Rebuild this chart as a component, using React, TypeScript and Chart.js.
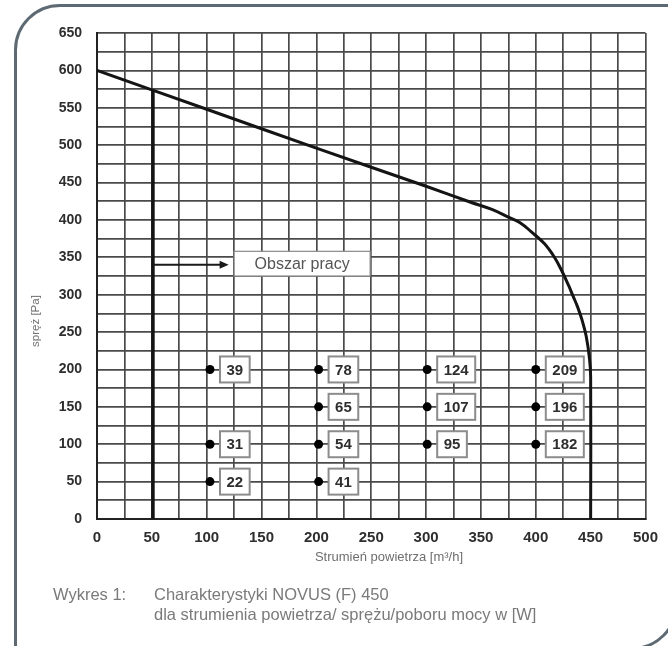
import React, { useEffect, useRef } from 'react';
import { Chart, registerables } from 'chart.js';

Chart.register(...registerables);

// Fan curve: air flow [m3/h] vs. pressure [Pa]
const curveFlow = [0, 100, 200, 300, 340, 360, 376, 386, 396, 408, 417, 424, 430, 434, 438, 442, 446, 449, 450, 450];
const curvePressure = [600, 548, 496, 445, 424, 414, 403, 396, 384, 368, 350, 331, 312, 298, 284, 267, 244, 214, 190, 0];

// Lower limit of the working area
const limitFlow = [51, 51];
const limitPressure = [0, 574];

// Power consumption points [W]
const pointFlow = [103, 202, 301, 400, 202, 301, 400, 103, 202, 301, 400, 103, 202];
const pointPressure = [200, 200, 200, 200, 150, 150, 150, 100, 100, 100, 100, 50, 50];
const pointPower = [39, 78, 124, 209, 65, 107, 196, 31, 54, 95, 182, 22, 41];

// Working-area annotation (data units)
const regionLabel = 'Obszar pracy';
const arrowFlow = [51, 120];
const arrowPressure = 340;
const regionBoxFlow = [125, 249];
const regionBoxPressure = [325, 358];

const xTitle = 'Strumień powietrza [m³/h]';
const yTitle = 'spręż [Pa]';
const captionLabel = 'Wykres 1:';
const captionLines = ['Charakterystyki NOVUS (F) 450', 'dla strumienia powietrza/ sprężu/poboru mocy w [W]'];

const FONT = '"Liberation Sans", Arial, sans-serif';

const annotationPlugin = {
  id: 'novusAnnotations',
  afterDatasetsDraw(chart: any) {
    const { ctx, scales } = chart;
    const x = scales.x;
    const y = scales.y;
    ctx.save();
    // arrow
    const ay = y.getPixelForValue(arrowPressure);
    const ax0 = x.getPixelForValue(arrowFlow[0]);
    const ax1 = x.getPixelForValue(arrowFlow[1]);
    ctx.strokeStyle = '#1a1a1a';
    ctx.fillStyle = '#1a1a1a';
    ctx.lineWidth = 2;
    ctx.beginPath();
    ctx.moveTo(ax0, ay);
    ctx.lineTo(ax1 - 6, ay);
    ctx.stroke();
    ctx.beginPath();
    ctx.moveTo(ax1, ay);
    ctx.lineTo(ax1 - 9, ay - 4);
    ctx.lineTo(ax1 - 9, ay + 4);
    ctx.closePath();
    ctx.fill();

    // region box
    const bx0 = x.getPixelForValue(regionBoxFlow[0]);
    const bx1 = x.getPixelForValue(regionBoxFlow[1]);
    const by0 = y.getPixelForValue(regionBoxPressure[1]);
    const by1 = y.getPixelForValue(regionBoxPressure[0]);
    ctx.fillStyle = '#ffffff';
    ctx.fillRect(bx0, by0, bx1 - bx0, by1 - by0);
    ctx.strokeStyle = '#8a8a8a';
    ctx.lineWidth = 1.2;
    ctx.strokeRect(bx0, by0, bx1 - bx0, by1 - by0);
    ctx.fillStyle = '#555555';
    ctx.font = `16px ${FONT}`;
    ctx.textAlign = 'center';
    ctx.textBaseline = 'middle';
    ctx.fillText(regionLabel, (bx0 + bx1) / 2, (by0 + by1) / 2 + 1);

    // power labels
    ctx.font = `bold 15px ${FONT}`;
    for (let i = 0; i < pointPower.length; i++) {
      const px = x.getPixelForValue(pointFlow[i]);
      const py = y.getPixelForValue(pointPressure[i]);
      const txt = String(pointPower[i]);
      const w = ctx.measureText(txt).width + 13;
      const h = 26;
      const left = px + 10;
      const top = py - h / 2;
      ctx.fillStyle = '#ffffff';
      ctx.fillRect(left, top, w, h);
      ctx.strokeStyle = '#8c8c8c';
      ctx.lineWidth = 2;
      ctx.strokeRect(left, top, w, h);
      ctx.fillStyle = '#2e2e2e';
      ctx.fillText(txt, left + w / 2, py + 1);
    }
    ctx.restore();
  },
};

export default function App() {
  const canvasRef = useRef<HTMLCanvasElement | null>(null);

  useEffect(() => {
    if (!canvasRef.current) return;
    const chart = new Chart(canvasRef.current, {
      type: 'scatter',
      data: {
        datasets: [
          {
            label: 'curve',
            data: curveFlow.map((v, i) => ({ x: v, y: curvePressure[i] })),
            showLine: true,
            borderColor: '#141414',
            borderWidth: 3,
            pointRadius: 0,
            tension: 0.4,
          },
          {
            label: 'limit',
            data: limitFlow.map((v, i) => ({ x: v, y: limitPressure[i] })),
            showLine: true,
            borderColor: '#141414',
            borderWidth: 3.5,
            pointRadius: 0,
          },
          {
            label: 'points',
            data: pointFlow.map((v, i) => ({ x: v, y: pointPressure[i] })),
            showLine: false,
            pointRadius: 4.5,
            pointBackgroundColor: '#000000',
            pointBorderWidth: 0,
          },
        ],
      },
      options: {
        animation: false,
        responsive: true,
        maintainAspectRatio: false,
        layout: { padding: { left: 0, top: 33, right: 19, bottom: 76 } },
        plugins: { legend: { display: false }, tooltip: { enabled: false } },
        scales: {
          x: {
            type: 'linear',
            min: 0,
            max: 500,
            afterFit: (s: any) => {
              s.height = 51;
            },
            ticks: {
              stepSize: 25,
              autoSkip: false,
              maxRotation: 0,
              padding: 10,
              color: '#2e2e2e',
              font: { family: FONT, size: 15, weight: 'bold' },
              callback: (v: any) => (Number(v) % 50 === 0 ? String(v) : ''),
            },
            grid: { color: '#4a4a4a', lineWidth: 1.7, drawTicks: false },
            border: { color: '#222222', width: 2 },
          },
          y: {
            type: 'linear',
            min: 0,
            max: 650,
            afterFit: (s: any) => {
              s.width = 97;
            },
            ticks: {
              stepSize: 25,
              autoSkip: false,
              padding: 15,
              color: '#2e2e2e',
              font: { family: FONT, size: 14, weight: 'bold' },
              callback: (v: any) => (Number(v) % 50 === 0 ? String(v) : ''),
            },
            grid: { color: '#4a4a4a', lineWidth: 1.7, drawTicks: false },
            border: { color: '#222222', width: 2 },
          },
        },
      },
      plugins: [annotationPlugin],
    });
    return () => chart.destroy();
  }, []);

  return (
    <div
      style={{
        position: 'fixed',
        left: 0,
        top: 0,
        width: 668,
        height: 646,
        overflow: 'hidden',
        background: '#ffffff',
        fontFamily: FONT,
      }}
    >
      <div
        style={{
          position: 'absolute',
          left: 14,
          top: 4,
          width: 664,
          height: 646,
          boxSizing: 'border-box',
          border: '3px solid #5e6a73',
          borderRadius: '46px 0 46px 0',
        }}
      />
      <div style={{ position: 'absolute', left: 0, top: 0, width: 668, height: 646 }}>
        <canvas ref={canvasRef} />
      </div>
      <div
        style={{
          position: 'absolute',
          left: 35 - 40,
          top: 321 - 8,
          width: 80,
          height: 16,
          lineHeight: '16px',
          textAlign: 'center',
          fontSize: 11.5,
          color: '#6e6e6e',
          transform: 'rotate(-90deg)',
          whiteSpace: 'nowrap',
        }}
      >
        {yTitle}
      </div>
      <div
        style={{
          position: 'absolute',
          left: 389 - 120,
          top: 549,
          width: 240,
          height: 16,
          lineHeight: '16px',
          textAlign: 'center',
          fontSize: 13,
          color: '#6e6e6e',
          whiteSpace: 'nowrap',
        }}
      >
        {xTitle}
      </div>
      <div
        style={{
          position: 'absolute',
          left: 53,
          top: 583.5,
          lineHeight: '20px',
          fontSize: 16.5,
          color: '#7a7a7a',
          whiteSpace: 'nowrap',
        }}
      >
        {captionLabel}
      </div>
      <div
        style={{
          position: 'absolute',
          left: 154,
          top: 583.5,
          lineHeight: '20px',
          fontSize: 16.5,
          color: '#7a7a7a',
          whiteSpace: 'nowrap',
        }}
      >
        {captionLines.map((l, i) => (
          <div key={i}>{l}</div>
        ))}
      </div>
    </div>
  );
}
